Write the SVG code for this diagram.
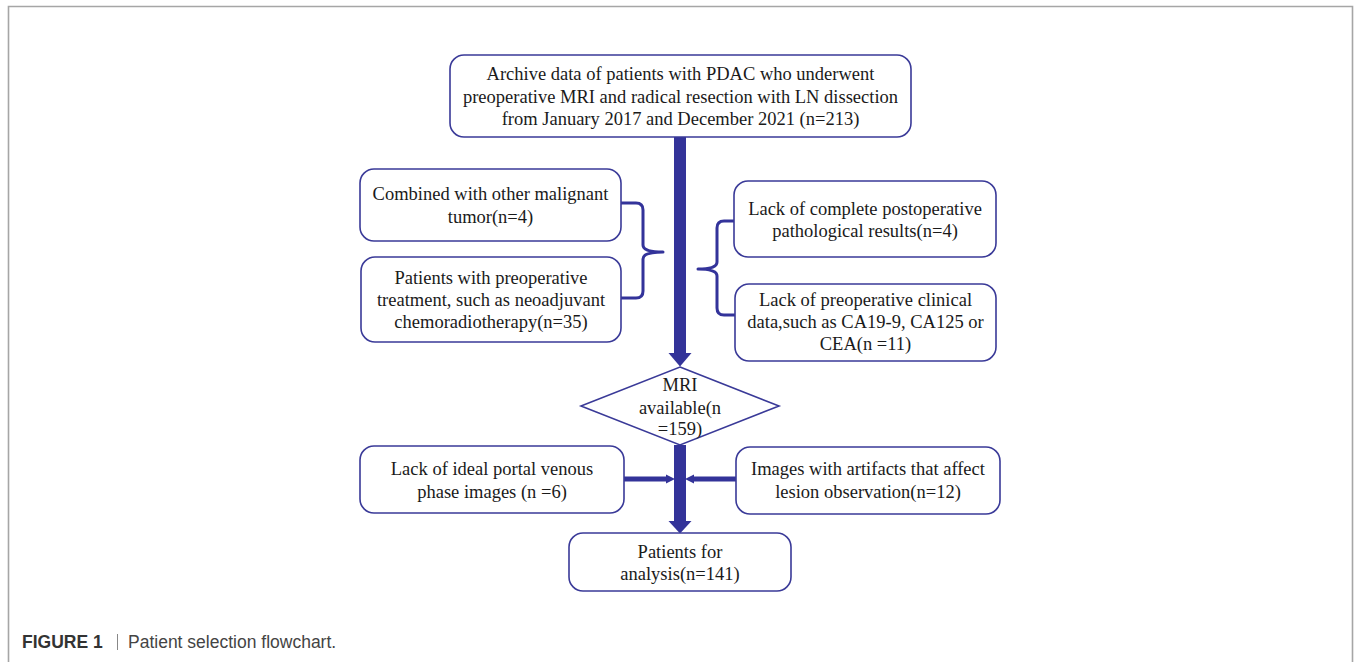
<svg xmlns="http://www.w3.org/2000/svg" width="1356" height="662" viewBox="0 0 1356 662">
<style>
.box{fill:#fff;stroke:#3a3a98;stroke-width:1.6}
.t{font-family:"Liberation Serif","Times New Roman",serif;font-size:18.5px;fill:#1a1a1a;text-anchor:middle}
.br{fill:none;stroke:#33339a;stroke-width:3;stroke-linejoin:round}
.ar{fill:#333399}
.hl{stroke:#333399;stroke-width:5}
</style>
<rect x="0" y="0" width="1356" height="662" fill="#fff"/>
<path d="M8.5,670 V6.5 H1352.5 V670" fill="none" stroke="#a6a6a6" stroke-width="1.6"/>

<g id="connectors">
  <rect class="ar" x="674" y="137" width="12" height="218"/>
  <polygon class="ar" points="668.5,353 691.5,353 680,366.5"/>
  <rect class="ar" x="674" y="445" width="12" height="78"/>
  <polygon class="ar" points="668.5,521 691.5,521 680,533.5"/>
  <line class="hl" x1="624" y1="479" x2="668" y2="479"/>
  <polygon class="ar" points="666,474.5 675,479 666,483.5"/>
  <line class="hl" x1="736" y1="479" x2="692" y2="479"/>
  <polygon class="ar" points="694,474.5 685,479 694,483.5"/>
  <path class="br" d="M621,203 H636 Q643,203 643,210 V245 Q643,252 663,252 Q643,252 643,259 V291 Q643,298 636,298 H621"/>
  <path class="br" d="M734,221 H724 Q717,221 717,228 V262 Q717,269 698,269 Q717,269 717,276 V308 Q717,315 724,315 H735"/>
</g>

<g id="n-archive">
  <rect class="box" x="450" y="55" width="461" height="82" rx="14"/>
  <text class="t" x="680.5" y="80">Archive data of patients with PDAC who underwent</text>
  <text class="t" x="680.5" y="102.5">preoperative MRI and radical resection with LN dissection</text>
  <text class="t" x="680.5" y="125">from January 2017 and December 2021 (n=213)</text>
</g>

<g id="n-malignant">
  <rect class="box" x="360" y="169" width="261" height="72" rx="14"/>
  <text class="t" x="490.5" y="200">Combined with other malignant</text>
  <text class="t" x="490.5" y="222.5">tumor(n=4)</text>
</g>

<g id="n-preop-treat">
  <rect class="box" x="361" y="257" width="260" height="85" rx="14"/>
  <text class="t" x="491" y="284">Patients with preoperative</text>
  <text class="t" x="491" y="306">treatment, such as neoadjuvant</text>
  <text class="t" x="491" y="328">chemoradiotherapy(n=35)</text>
</g>

<g id="n-pathology">
  <rect class="box" x="734" y="181" width="262" height="76" rx="14"/>
  <text class="t" x="865" y="214.5">Lack of complete postoperative</text>
  <text class="t" x="865" y="237">pathological results(n=4)</text>
</g>

<g id="n-clinical">
  <rect class="box" x="735" y="284" width="261" height="77" rx="14"/>
  <text class="t" x="865.5" y="306">Lack of preoperative clinical</text>
  <text class="t" x="865.5" y="328">data,such as CA19-9, CA125 or</text>
  <text class="t" x="865.5" y="350">CEA(n =11)</text>
</g>

<g id="n-mri">
  <polygon class="box" points="680,367 779,406 680,445 581,406"/>
  <text class="t" x="680" y="391">MRI</text>
  <text class="t" x="680" y="413.5">available(n</text>
  <text class="t" x="680" y="435">=159)</text>
</g>

<g id="n-portal">
  <rect class="box" x="360" y="446" width="264" height="67" rx="14"/>
  <text class="t" x="492" y="475">Lack of ideal portal venous</text>
  <text class="t" x="492" y="497.5">phase images (n =6)</text>
</g>

<g id="n-artifacts">
  <rect class="box" x="736" y="447" width="264" height="67" rx="14"/>
  <text class="t" x="868" y="475">Images with artifacts that affect</text>
  <text class="t" x="868" y="497.5">lesion observation(n=12)</text>
</g>

<g id="n-analysis">
  <rect class="box" x="569" y="533" width="222" height="58" rx="14"/>
  <text class="t" x="680" y="557.5">Patients for</text>
  <text class="t" x="680" y="579.5">analysis(n=141)</text>
</g>

<g id="caption" font-family="'Liberation Sans',Arial,sans-serif" font-size="17.5px">
  <text x="22" y="648" font-weight="bold" fill="#333">FIGURE 1</text>
  <line x1="117.5" y1="634" x2="117.5" y2="650" stroke="#888" stroke-width="1"/>
  <text x="128" y="648" fill="#444">Patient selection flowchart.</text>
</g>
</svg>
